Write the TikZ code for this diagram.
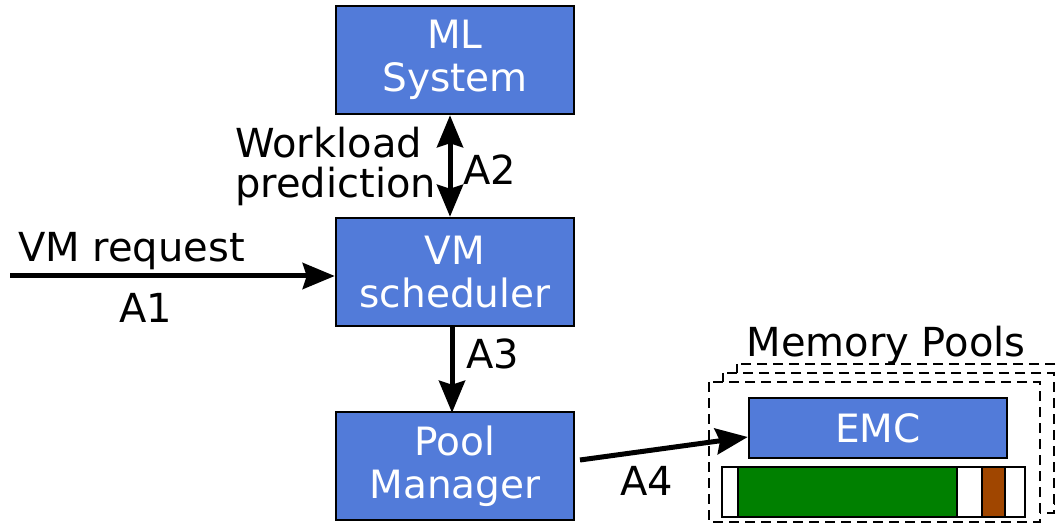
\documentclass[tikz,border=0pt]{standalone}
\usepackage{fontspec}
\setmainfont{DejaVu Sans}
\usetikzlibrary{arrows.meta}
\definecolor{boxblue}{RGB}{82,123,217}
\definecolor{poolgreen}{RGB}{0,128,0}
\definecolor{poolbrown}{RGB}{160,70,0}
\tikzset{bigtip/.tip={Stealth[length=32pt,width=26pt,inset=4pt]}}
\begin{document}
\begin{tikzpicture}[x=1pt,y=-1pt,
  bigbox/.style={draw=black,line width=2.5pt,fill=boxblue,text=white,minimum width=238pt,minimum height=108pt,inner sep=0pt,align=center,font=\fontsize{39}{43}\selectfont},
  lbl/.style={inner sep=0pt,font=\fontsize{40}{40}\selectfont},
  conn/.style={line width=5pt,-bigtip},
  dconn/.style={line width=5pt,bigtip-bigtip},
  pool/.style={draw=black,line width=2.2pt,dash pattern=on 10pt off 6pt,fill=white},
  seg/.style={draw=black,line width=2.5pt}]
\useasboundingbox (0,0) rectangle (1060,526);
\begin{scope}
\clip (0,0) rectangle (1060,526);
% memory pool stack
\draw[pool] (737,364) rectangle (1068,504);
\draw[pool] (723,373) rectangle (1054,513);
\draw[pool] (709,382) rectangle (1040,522);
\end{scope}
\node[lbl,anchor=base] (mp) at (886,357) {Memory Pools};
% boxes
\node[bigbox] (ml) at (455,60) {ML\\System};
\node[bigbox] (vm) at (455,272) {VM\\scheduler};
\node[bigbox] (pm) at (455,466) {Pool\\Manager};
\node[draw=black,line width=2.5pt,fill=boxblue,text=white,minimum width=258pt,minimum height=60pt,inner sep=0pt,font=\fontsize{39}{43}\selectfont] (emc) at (878,428) {EMC};
% memory bar
\draw[seg,fill=white] (722,467) rectangle (1025,517);
\draw[seg,fill=poolgreen] (738,467) rectangle (957,517);
\draw[seg,fill=poolbrown] (982,467) rectangle (1005,517);
% connectors
\coordinate (start) at (10,276);
\draw[conn] (start) -- (vm.west |- start);
\node[lbl,anchor=base west] (vmreq) at (18,262) {VM request};
\node[lbl,anchor=base] (a1) at (146,323) {A1};
\draw[dconn] (ml.south -| 450,0) -- (vm.north -| 450,0);
\node[lbl,anchor=base] (a2) at (490,185) {A2};
\node[lbl,anchor=base west] (wl1) at (235,158) {Workload};
\node[lbl,anchor=base west] (wl2) at (235,198) {prediction};
\draw[conn] (vm.south -| 452,0) -- ([yshift=-2pt]pm.north -| 452,0);
\node[lbl,anchor=base] (a3) at (493,369) {A3};
\coordinate (a4s) at (580,460);
\draw[conn] (a4s) -- (emc.west |- 0,437);
\node[lbl,anchor=base] (a4) at (647,495) {A4};
\end{tikzpicture}
\end{document}
